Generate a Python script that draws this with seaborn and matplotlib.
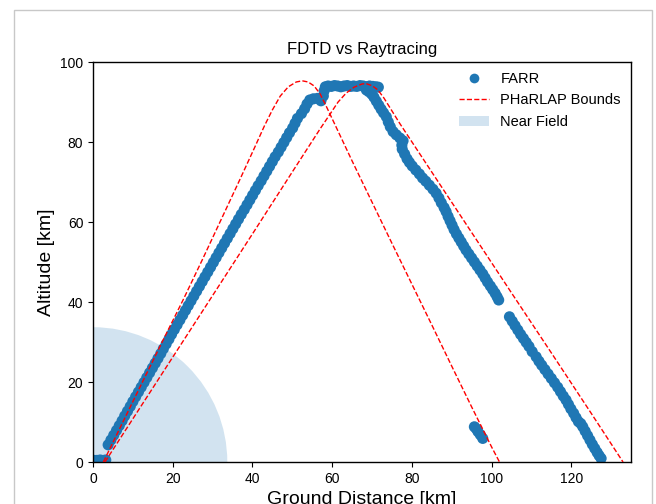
import matplotlib
matplotlib.use("Agg")
import matplotlib.pyplot as plt
from matplotlib.patches import Wedge, Rectangle, Patch
from matplotlib.lines import Line2D
import seaborn as sns
import pandas as pd

plt.rcParams['font.family'] = ['Liberation Sans', 'DejaVu Sans']

# FARR scatter (ground distance km, altitude km)
farr_x = [0.3, 1.0, 1.8, 2.6, 3.2,
          3.8, 4.5, 5.2, 5.9, 6.6, 7.3, 7.95, 8.65, 9.35, 10.0, 10.7, 11.4, 12.1, 12.8,
          13.5, 14.2, 14.9, 15.6, 16.3, 17.0, 17.65, 18.35, 19.05, 19.7, 20.4, 21.1, 21.8,
          22.5, 23.2, 23.9, 24.6,
          25.3, 26.0, 26.7, 27.4, 28.1, 28.8, 29.5, 30.2, 30.9, 31.6, 32.3, 33.0, 33.7,
          34.4, 35.1, 35.8, 36.5, 37.2, 37.95, 38.65, 39.35, 40.05, 40.75, 41.45, 42.2,
          42.9, 43.6, 44.3, 45.0, 45.7, 46.5, 47.2, 47.9, 48.6, 49.3, 50.1, 50.7, 51.3,
          52.3, 53.1, 53.7, 54.4, 55.3, 56.3, 57.2, 57.8, 58.0, 58.3,
          59.0, 59.8, 60.6, 61.4, 62.2, 63.0, 63.8, 64.6, 65.4, 66.2, 67.0, 67.8, 68.6,
          69.4, 70.2, 71.0, 71.6,
          68.6, 69.2, 69.9, 70.5, 71.1, 71.7, 72.3, 72.9, 73.6, 74.1, 74.6, 75.3, 76.1,
          77.0, 77.8, 77.5, 77.6, 78.2, 78.8, 79.4, 80.1, 81.0, 81.9, 82.7, 83.5, 84.4,
          85.3, 86.1, 86.8, 87.4, 88.1, 88.6, 89.1, 89.6, 90.1, 90.6, 91.2, 91.8, 92.4,
          93.0, 93.6, 94.3, 95.0, 95.7, 96.4, 97.1, 97.8, 98.4, 99.0, 99.7, 100.3, 100.9,
          101.4, 101.8,
          104.5, 105.2, 105.9, 106.6, 107.3, 108.0, 108.7, 109.4, 110.2, 111.2, 111.9,
          112.6, 113.4, 114.2, 115.0, 115.8, 116.6, 117.3, 118.0, 118.7, 119.3, 119.9,
          120.6, 121.2, 121.8, 122.4, 122.9, 123.5, 124.1, 124.7, 125.3, 125.9, 126.5,
          127.0, 127.5,
          95.7, 96.2, 96.6, 97.2, 97.8]
farr_y = [0.4, 0.4, 0.5, 0.4, 0.5,
          4.3, 5.5, 6.7, 7.9, 9.1, 10.3, 11.5, 12.7, 13.9, 15.1, 16.3, 17.5, 18.7, 19.9,
          21.1, 22.3, 23.5, 24.7, 25.9, 27.1, 28.3, 29.5, 30.7, 31.9, 33.1, 34.3, 35.5,
          36.7, 37.9, 39.1, 40.3,
          41.5, 42.7, 43.9, 45.1, 46.3, 47.5, 48.7, 49.9, 51.1, 52.3, 53.5, 54.7, 55.9,
          57.1, 58.3, 59.5, 60.7, 61.9, 63.1, 64.3, 65.5, 66.7, 67.9, 69.1, 70.3,
          71.5, 72.7, 73.9, 75.1, 76.3, 77.5, 78.7, 79.9, 81.1, 82.3, 83.5, 84.7, 85.9,
          87.1, 88.3, 89.5, 90.5, 90.8, 90.9, 90.3, 91.5, 92.8, 93.8,
          94.0, 93.9, 94.1, 94.0, 93.8, 94.0, 94.1, 93.9, 94.0, 93.9, 94.1, 94.0, 93.8,
          94.0, 93.9, 93.8, 93.7,
          93.0, 92.6, 92.0, 91.2, 90.2, 89.2, 88.2, 87.3, 86.3, 85.0, 83.8, 82.6, 81.8,
          81.0, 80.3, 79.2, 78.2, 77.0, 75.8, 74.9, 74.0, 73.0, 72.0, 71.0, 70.2, 69.2,
          68.2, 67.2, 66.0, 64.8, 63.6, 62.6, 61.4, 60.3, 59.2, 58.1, 57.0, 56.0, 55.0,
          54.0, 53.0, 52.0, 51.0, 50.0, 49.0, 48.0, 47.0, 46.0, 45.0, 44.0, 43.1, 42.2,
          41.3, 40.5,
          36.3, 35.2, 34.1, 33.0, 31.9, 30.9, 29.9, 28.9, 27.6, 26.3, 25.2,
          24.2, 23.1, 22.0, 20.9, 19.8, 18.7, 17.6, 16.5, 15.5, 14.4, 13.3,
          12.2, 11.1, 10.1, 9.6, 8.8, 7.7, 6.6, 5.5, 4.4, 3.4, 2.4,
          1.6, 0.9,
          8.8, 8.3, 7.6, 6.8, 5.9]

# PHaRLAP bound rays
bound1_x = [2.6, 7.5, 12.5, 17.5, 22.6, 27.4, 32.1, 36.8, 40.5, 43.0, 45.0, 47.0, 49.0,
            51.0, 52.5, 54.0, 55.5, 57.0, 58.5, 60.5, 65.0, 70.0, 75.0, 80.0, 85.0, 90.0,
            95.0, 100.0, 102.0]
bound1_y = [0.0, 10.0, 20.2, 30.3, 40.5, 50.5, 60.5, 70.5, 78.5, 84.0, 88.0, 91.5, 93.8,
            95.0, 95.3, 95.0, 94.0, 92.0, 89.0, 84.8, 75.3, 65.0, 54.7, 44.5, 34.3, 24.0,
            13.8, 3.8, 0.0]
bound2_x = [3.0, 10.0, 20.0, 30.0, 40.0, 50.0, 57.0, 59.5, 61.5, 63.5, 65.5, 67.5, 68.5,
            70.0, 71.5, 73.0, 75.0, 77.0, 85.0, 95.0, 105.0, 115.0, 125.0, 133.0]
bound2_y = [0.0, 10.8, 26.2, 41.6, 57.0, 72.5, 83.3, 87.0, 90.0, 92.2, 93.7, 94.5, 94.6,
            94.1, 93.0, 91.0, 87.8, 84.6, 72.5, 57.4, 42.3, 27.3, 12.2, 0.0]

near_field_radius = 33.7

x_ticks = [0, 20, 40, 60, 80, 100, 120]
y_ticks = [0, 20, 40, 60, 80, 100]

fig = plt.figure(figsize=(6.56, 5.04), dpi=100)
ax = fig.add_axes([93/656, 42/504, 538/656, 400/504])

blue = '#1f77b4'
nf = Wedge((0, 0), near_field_radius, 0, 90, facecolor=blue, alpha=0.2,
           edgecolor='none', zorder=0)
ax.add_patch(nf)

df = pd.DataFrame({'x': farr_x, 'y': farr_y})
sns.scatterplot(data=df, x='x', y='y', ax=ax, color=blue, s=64, linewidth=0,
                edgecolor='none', zorder=2, legend=False)

d1 = pd.DataFrame({'x': bound1_x, 'y': bound1_y})
d2 = pd.DataFrame({'x': bound2_x, 'y': bound2_y})
for d in (d1, d2):
    sns.lineplot(data=d, x='x', y='y', ax=ax, sort=False, estimator=None,
                 color='red', linestyle='--', linewidth=1, zorder=3, legend=False)

ax.set_xlim(0, 135)
ax.set_ylim(0, 100)
ax.set_xticks(x_ticks)
ax.set_yticks(y_ticks)
ax.tick_params(labelsize=10, colors='black')
for s in ax.spines.values():
    s.set_linewidth(1.0)
    s.set_color('black')

ax.set_title('FDTD vs Raytracing', fontsize=12)
ax.set_xlabel('Ground Distance [km]', fontsize=14)
ax.set_ylabel('Altitude [km]', fontsize=14)

handles = [
    Line2D([], [], marker='o', linestyle='none', color=blue, markersize=7,
           markeredgewidth=0),
    Line2D([], [], color='red', linestyle='--', linewidth=1),
    Patch(facecolor=blue, alpha=0.2, edgecolor='none'),
]
ax.legend(handles, ['FARR', 'PHaRLAP Bounds', 'Near Field'], loc='upper right',
          frameon=False, fontsize=10.5, borderaxespad=0.3)

fig.patches.append(Rectangle((14/656, -0.2), (652-14)/656, 0.2 + 494/504,
                             transform=fig.transFigure, fill=False,
                             edgecolor='#c8c8c8', linewidth=1.0))

fig.savefig('out.png', dpi=100)
